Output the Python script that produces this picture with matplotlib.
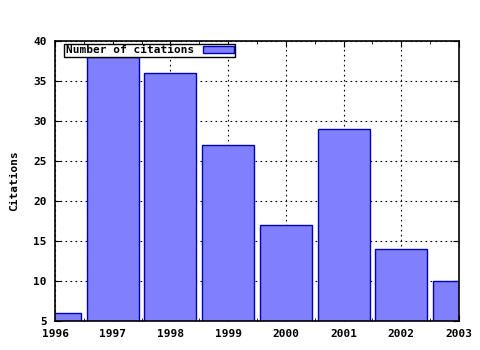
import numpy as np
import matplotlib
matplotlib.use('Agg')
from matplotlib import pyplot as plt
from matplotlib.ticker import MultipleLocator

years = [1996, 1997, 1998, 1999, 2000, 2001, 2002, 2003]
citations = [6, 38, 36, 27, 17, 29, 14, 10]
yticks = [5, 10, 15, 20, 25, 30, 35, 40]

plt.rcParams['font.family'] = 'DejaVu Sans Mono'
plt.rcParams['font.weight'] = 'bold'
plt.rcParams['font.size'] = 8

fig = plt.figure(figsize=(4.8, 3.5), dpi=100)
ax = fig.add_axes([0.1146, 0.083, 0.8417, 0.8])

ax.bar(years, citations, width=0.9, bottom=0, color='#8080ff',
       edgecolor='#0000b0', linewidth=1, label='Number of citations', zorder=2)

ax.set_xlim(1996, 2003)
ax.set_ylim(5, 40)
ax.set_xticks(years)
ax.set_yticks(yticks)
ax.xaxis.set_minor_locator(MultipleLocator(0.5))
ax.tick_params(axis='both', which='major', direction='in', length=4,
               top=True, right=True, pad=6, labelsize=8)
ax.tick_params(axis='x', which='minor', direction='in', length=2, top=True)
ax.grid(True, which='major', color='black', linestyle=(0, (1.5, 3)),
        linewidth=0.8, zorder=1)
ax.set_axisbelow(True)
for s in ax.spines.values():
    s.set_linewidth(1.2)

ax.set_ylabel('Citations', fontweight='bold', labelpad=10)

leg = ax.legend(loc='upper left', bbox_to_anchor=(0.022, 0.99),
                markerfirst=False, fancybox=False,
                framealpha=1, edgecolor='black', borderpad=0.15,
                handlelength=2.8, handleheight=0.6, handletextpad=0.8,
                borderaxespad=0)
leg.get_frame().set_linewidth(1)

plt.savefig('out.png', dpi=100)
